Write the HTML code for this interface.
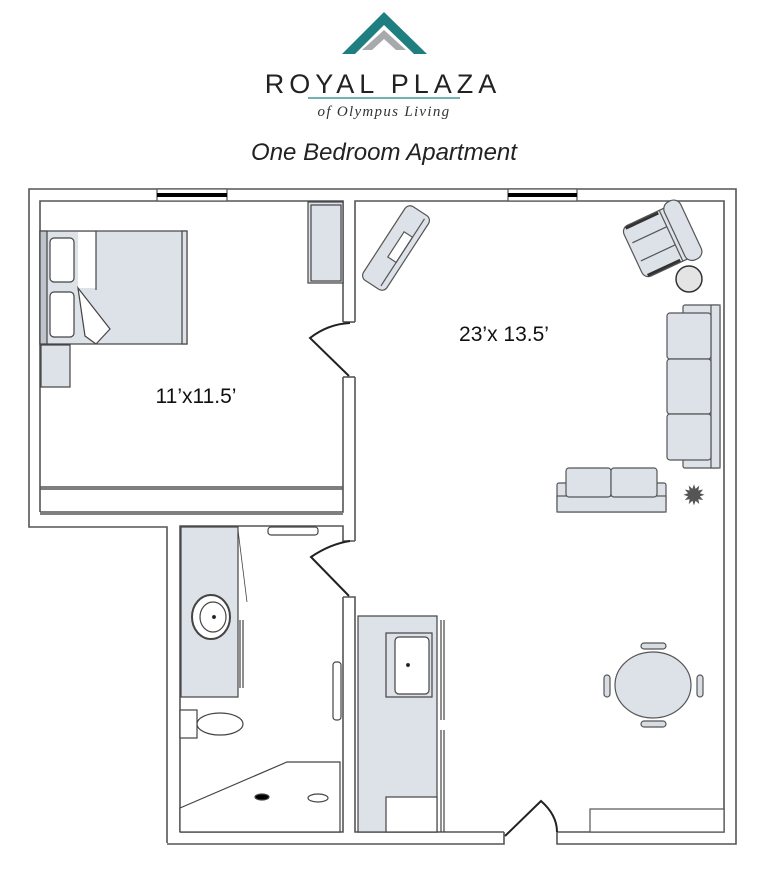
<!DOCTYPE html>
<html><head><meta charset="utf-8"><style>
html,body{margin:0;padding:0;background:#fff;}
svg{display:block;}
</style></head><body>
<svg width="768" height="879" viewBox="0 0 768 879" xmlns="http://www.w3.org/2000/svg">
<!-- logo -->
<polygon points="384,12 427,54 414,54 384,25 355,54 342,54" fill="#1f7f80"/>
<polygon points="384,30 406,50 396,50 384,39 372,50 362,50" fill="#a7a9ac"/>
<text x="383" y="93" text-anchor="middle" font-family="Liberation Sans, sans-serif" font-size="27" letter-spacing="5" fill="#222" style="font-weight:300">ROYAL PLAZA</text>
<line x1="308" y1="98" x2="460" y2="98" stroke="#6fb3b3" stroke-width="2"/>
<text x="384" y="116" text-anchor="middle" font-family="Liberation Serif, serif" font-style="italic" font-size="15" letter-spacing="1.3" fill="#333">of Olympus Living</text>
<text x="384" y="160" text-anchor="middle" font-family="Liberation Sans, sans-serif" font-style="italic" font-size="24" fill="#222">One Bedroom Apartment</text>

<g fill="none" stroke="#555" stroke-width="1.6">
<polyline points="167,843 167,527 29,527 29,189 736,189 736,844 557,844 557,832"/>
<polyline points="504,832 504,844 167,844"/>
<polyline points="40,512 40,201 343,201 343,322"/>
<polyline points="343,377 343,512 40,512"/>
<polyline points="40,487 343,487"/>
<polyline points="40,489 343,489"/>
<polyline points="40,514 343,514"/>
<polyline points="355,322 355,201 724,201 724,832 557,832"/>
<polyline points="343,322 355,322"/><polyline points="343,377 355,377"/>
<polyline points="355,377 355,541"/>
<polyline points="180,832 180,526 343,526 343,541 355,541"/>
<polyline points="343,597 355,597 355,832 504,832"/>
<polyline points="343,597 343,832 180,832"/>
</g>
<rect x="157" y="189" width="70" height="12" fill="#fff" stroke="#555" stroke-width="1.2"/>
<rect x="157" y="193" width="70" height="4" fill="#000"/>
<rect x="508" y="189" width="69" height="12" fill="#fff" stroke="#555" stroke-width="1.2"/>
<rect x="508" y="193" width="69" height="4" fill="#000"/>
<g fill="none" stroke="#222" stroke-width="2">
<path d="M350,323 Q328,324 310,338 L349,376"/>
<path d="M350,541 Q330,544 311,557 L349,596"/>
<path d="M505,836 L541,801 Q557,815 557,832"/>
</g>
<g stroke="#444" stroke-width="1.2">
<rect x="40" y="231" width="147" height="113" fill="#dde1e8"/>
<rect x="40" y="231" width="7" height="113" fill="#bfc4cc"/>
<rect x="50" y="238" width="24" height="44" rx="4" fill="#fff"/>
<rect x="50" y="292" width="24" height="45" rx="4" fill="#fff"/>
<rect x="78" y="232" width="18" height="56" fill="#fff" stroke="none"/>
<polygon points="78,288 110,329 96,344 85,336" fill="#fff"/>
<line x1="96" y1="231" x2="96" y2="290"/>
<rect x="182" y="231" width="5" height="113" fill="#dde1e8"/>
<rect x="41" y="345" width="29" height="42" fill="#dde1e8"/>
<rect x="308" y="202" width="35" height="81" fill="#dde1e8"/>
<rect x="311" y="205" width="30" height="76" fill="#dde1e8"/>
</g>
<g transform="translate(396,248) rotate(33)" stroke="#555" stroke-width="1.2" fill="#dde1e8">
<rect x="-14" y="-44" width="28" height="88" rx="6"/>
<rect x="-2" y="-18" width="10" height="30" fill="#fff"/>
<line x1="8" y1="-40" x2="8" y2="40"/>
</g>
<g transform="translate(662,240) rotate(-25)" stroke="#555" stroke-width="1.2" fill="#dde1e8">
<rect x="-32" y="-28" width="58" height="56" rx="7"/>
<rect x="14" y="-32" width="18" height="64" rx="8"/>
<line x1="10" y1="-28" x2="10" y2="28"/>
<line x1="-28" y1="-10" x2="10" y2="-10"/>
<line x1="-28" y1="10" x2="10" y2="10"/>
<line x1="-28" y1="-26" x2="8" y2="-26" stroke="#333" stroke-width="3"/>
<line x1="-28" y1="26" x2="8" y2="26" stroke="#333" stroke-width="3"/>
</g>
<circle cx="689" cy="279" r="13" fill="#e4e4e4" stroke="#333" stroke-width="1.5"/>
<g stroke="#555" stroke-width="1.2" fill="#dde1e8">
<rect x="683" y="305" width="37" height="163" rx="2"/>
<rect x="711" y="305" width="9" height="163"/>
<rect x="667" y="313" width="44" height="46" rx="3"/>
<rect x="667" y="359" width="44" height="55" rx="3"/>
<rect x="667" y="414" width="44" height="46" rx="3"/>
<rect x="557" y="483" width="109" height="29" rx="2"/>
<rect x="557" y="496" width="109" height="16"/>
<rect x="566" y="468" width="45" height="29" rx="3"/>
<rect x="611" y="468" width="46" height="29" rx="3"/>
</g>
<text x="694" y="505" text-anchor="middle" font-size="28" fill="#555" font-family="DejaVu Sans, sans-serif">✹</text>
<g stroke="#555" stroke-width="1.2" fill="#d8dce3">
<rect x="641" y="643" width="25" height="6" rx="3"/>
<rect x="641" y="721" width="25" height="6" rx="3"/>
<rect x="604" y="675" width="6" height="22" rx="3"/>
<rect x="697" y="675" width="6" height="22" rx="3"/>
<ellipse cx="653" cy="685" rx="38" ry="33" fill="#dde1e8"/>
</g>
<rect x="590" y="809" width="134" height="23" fill="#fff" stroke="#555" stroke-width="1.2"/>
<g stroke="#444" stroke-width="1.2">
<rect x="181" y="527" width="57" height="170" fill="#dde1e8"/>
<ellipse cx="211" cy="617" rx="19" ry="22" fill="#fff" stroke-width="2"/>
<ellipse cx="213" cy="617" rx="13" ry="15" fill="#fff"/>
<line x1="238" y1="530" x2="247" y2="602" stroke-width="0.8"/>
<line x1="240" y1="620" x2="240" y2="688"/><line x1="243" y1="620" x2="243" y2="688"/>
<rect x="268" y="527" width="50" height="8" rx="3" fill="#fff"/>
<rect x="180" y="710" width="17" height="28" fill="#fff"/>
<ellipse cx="220" cy="724" rx="23" ry="11" fill="#fff"/>
<polygon points="180,808 287,762 340,762 340,832 180,832" fill="#fff"/>
<ellipse cx="262" cy="797" rx="7" ry="3" fill="#000"/>
<ellipse cx="318" cy="798" rx="10" ry="4" fill="#fff"/>
<rect x="333" y="662" width="8" height="58" rx="3" fill="#fff"/>
<rect x="358" y="616" width="79" height="216" fill="#dde1e8"/>
<rect x="386" y="633" width="46" height="64" fill="#dde1e8"/>
<rect x="395" y="637" width="34" height="57" rx="4" fill="#fff"/>
<circle cx="408" cy="665" r="1.5" fill="#000"/>
<circle cx="214" cy="617" r="1.5" fill="#000"/>
<rect x="386" y="797" width="51" height="35" fill="#fff"/>
<line x1="441" y1="620" x2="441" y2="720"/><line x1="444" y1="620" x2="444" y2="720"/>
<line x1="441" y1="730" x2="441" y2="832"/><line x1="444" y1="730" x2="444" y2="832"/>
</g>
<text x="504" y="341" text-anchor="middle" font-family="Liberation Sans, sans-serif" font-size="21" fill="#111">23’x 13.5’</text>
<text x="196" y="403" text-anchor="middle" font-family="Liberation Sans, sans-serif" font-size="21" fill="#111">11’x11.5’</text>
</svg>
</body></html>
